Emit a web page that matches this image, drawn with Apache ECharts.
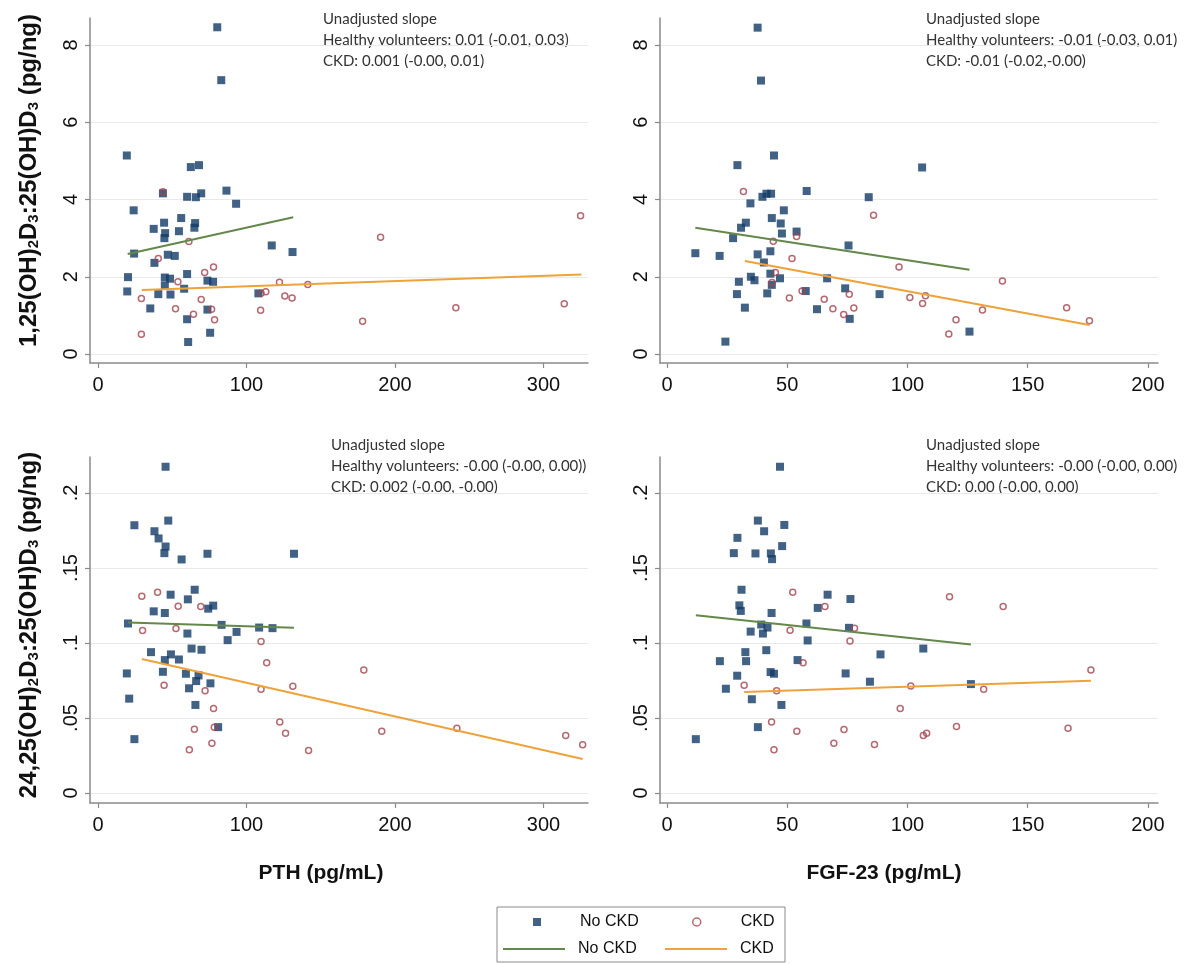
<!DOCTYPE html>
<html>
<head>
<meta charset="utf-8">
<title>Vitamin D metabolite ratios vs PTH and FGF-23</title>
<script src="https://cdn.jsdelivr.net/npm/echarts@6/dist/echarts.min.js"></script>
<style>
  html, body { margin: 0; padding: 0; background: #fff; }
  #chart { width: 1191px; height: 964px; }
</style>
</head>
<body>
<div id="chart"></div>
<script>
// ---- data ----
// 1,25(OH)2D3:25(OH)D3 vs PTH
const pth125NoCkd = [[80.3,8.46],[83,7.09],[19.4,5.14],[62.5,4.84],[68,4.89],[86.5,4.23],[43.7,4.16],[60,4.07],[65.9,4.06],[69.5,4.16],[93,3.89],[24,3.72],[56,3.52],[37.5,3.24],[44.5,3.4],[45.2,3.13],[44.7,3.0],[54.5,3.18],[65.4,3.39],[64.9,3.27],[24.3,2.6],[47,2.57],[51.7,2.54],[38,2.36],[117,2.81],[131,2.64],[20.2,1.99],[19.7,1.62],[45,1.98],[48.5,1.95],[45,1.77],[60,2.07],[58,1.69],[73.7,1.9],[77.5,1.87],[40.6,1.55],[48.8,1.54],[35.2,1.18],[73.7,1.15],[60,0.9],[75.5,0.55],[60.7,0.31],[108,1.57]];
const pth125Ckd = [[325,3.58],[190.3,3.02],[61.2,2.91],[40.6,2.47],[77.8,2.25],[71.8,2.11],[53.8,1.87],[122.2,1.86],[141.3,1.8],[29.2,1.44],[69.5,1.41],[113,1.61],[109.8,1.57],[125.8,1.5],[130.7,1.45],[52.2,1.17],[76.5,1.16],[109.5,1.13],[64.3,1.03],[78.5,0.89],[178.2,0.85],[241,1.2],[314,1.3],[29.2,0.51],[43.7,4.2]];
const pth125FitNoCkd = [[20,2.59],[131.5,3.54]];
const pth125FitCkd = [[29.5,1.66],[325.6,2.06]];

// 1,25(OH)2D3:25(OH)D3 vs FGF-23
const fgf125NoCkd = [[37.7,8.45],[39.1,7.08],[44.5,5.14],[29.3,4.89],[106.1,4.83],[58.1,4.22],[41.4,4.15],[43.3,4.15],[39.7,4.07],[83.9,4.06],[34.7,3.9],[48.6,3.72],[43.6,3.52],[47.3,3.38],[32.8,3.4],[30.8,3.27],[47.8,3.12],[53.9,3.17],[27.5,3.0],[11.8,2.61],[21.9,2.54],[37.7,2.58],[43,2.66],[75.5,2.81],[40.3,2.37],[29.9,1.87],[34.9,2.0],[36.4,1.91],[43,2.08],[47,1.96],[66.6,1.96],[43.6,1.79],[29.1,1.55],[41.7,1.57],[57.7,1.63],[74.1,1.7],[88.4,1.55],[32.4,1.2],[62.4,1.16],[76,0.91],[125.8,0.58],[24.3,0.32]];
const fgf125Ckd = [[31.8,4.21],[85.9,3.59],[53.9,3.04],[44.2,2.92],[52,2.47],[96.5,2.25],[45.1,2.11],[139.5,1.89],[43.7,1.85],[56.2,1.63],[75.8,1.55],[50.9,1.45],[65.4,1.42],[101,1.46],[107.5,1.51],[106.3,1.31],[69,1.17],[77.7,1.19],[73.5,1.02],[131.2,1.14],[166.2,1.2],[120.2,0.89],[175.7,0.86],[117.2,0.52]];
const fgf125FitNoCkd = [[11.8,3.27],[125.8,2.18]];
const fgf125FitCkd = [[32.4,2.41],[175.7,0.75]];

// 24,25(OH)2D3:25(OH)D3 vs PTH
const pth2425NoCkd = [[45.5,0.2175],[24.5,0.1785],[47.3,0.1816],[38,0.1745],[40.8,0.1697],[45.5,0.1643],[44.7,0.1599],[56.3,0.1557],[73.7,0.1595],[132,0.1595],[65.1,0.1355],[48.9,0.1322],[60.5,0.1291],[77.6,0.1249],[74.2,0.1229],[37.5,0.1211],[45,0.12],[20.2,0.113],[83.2,0.1121],[108.5,0.1103],[117.5,0.1099],[93.3,0.1074],[60.2,0.1063],[87.3,0.1019],[63,0.0963],[69.7,0.0955],[35.7,0.0939],[49.1,0.0924],[45,0.0886],[54.5,0.089],[19.4,0.0797],[43.7,0.0808],[59.2,0.0795],[67.7,0.0784],[66.1,0.0746],[75.7,0.0731],[61.3,0.0698],[21,0.0629],[65.6,0.0587],[80.9,0.0439],[24.5,0.0359]];
const pth2425Ckd = [[29.5,0.1311],[40.1,0.1338],[54,0.1245],[69.2,0.1243],[30,0.1083],[52.5,0.1096],[109.8,0.101],[113.6,0.0868],[179,0.082],[44.5,0.0718],[72.1,0.0682],[109.8,0.0691],[131.2,0.0711],[77.8,0.0563],[78.3,0.0439],[64.9,0.0425],[122.4,0.0474],[126.3,0.0399],[191.1,0.0412],[241.7,0.0432],[315,0.0383],[326.4,0.0321],[61.5,0.0288],[76.7,0.0332],[141.8,0.0283]];
const pth2425FitNoCkd = [[20.2,0.1136],[132,0.1101]];
const pth2425FitCkd = [[29.5,0.0893],[326.4,0.0226]];

// 24,25(OH)2D3:25(OH)D3 vs FGF-23
const fgf2425NoCkd = [[47,0.2175],[37.8,0.1816],[48.8,0.1787],[40.4,0.1745],[29.3,0.1701],[47.9,0.1646],[27.8,0.1599],[36.8,0.1597],[43.2,0.1597],[43.7,0.1559],[31,0.1355],[66.8,0.1322],[76.3,0.1293],[30.1,0.1251],[62.7,0.1234],[30.7,0.1214],[43.5,0.12],[58,0.113],[39.2,0.1123],[75.7,0.1101],[41.8,0.1103],[34.8,0.1076],[39.9,0.1063],[58.5,0.1017],[41.3,0.0952],[106.6,0.0963],[32.6,0.0939],[88.8,0.0924],[22,0.0879],[32.9,0.0879],[54.3,0.0886],[43.1,0.0806],[44.5,0.0795],[74.3,0.0797],[29.2,0.0782],[84.4,0.0742],[126.4,0.0726],[24.5,0.0695],[35.3,0.0625],[47.6,0.0587],[37.8,0.0439],[12,0.0359]];
const fgf2425Ckd = [[52.3,0.1338],[117.5,0.1309],[65.7,0.1243],[139.8,0.1243],[78,0.1099],[51.2,0.1085],[76.1,0.1014],[56.6,0.0868],[176.3,0.082],[32.1,0.0718],[101.4,0.0713],[45.6,0.0682],[131.7,0.0691],[97,0.0563],[43.5,0.0474],[120.4,0.0443],[166.8,0.0432],[54,0.0412],[73.6,0.0423],[106.6,0.0383],[108,0.0399],[69.4,0.0332],[86.3,0.0323],[44.5,0.0288]];
const fgf2425FitNoCkd = [[12,0.1185],[126.4,0.099]];
const fgf2425FitCkd = [[32.1,0.0673],[176.3,0.0749]];

// tick labels
const pthTicks = [0, 100, 200, 300];
const fgfTicks = [0, 50, 100, 150, 200];
const ratio125Ticks = [0, 2, 4, 6, 8];
const ratio2425Ticks = [0, 0.05, 0.1, 0.15, 0.2];

// slope notes
const note125Pth = ['Unadjusted slope', 'Healthy volunteers: 0.01 (-0.01, 0.03)', 'CKD: 0.001 (-0.00, 0.01)'];
const note125Fgf = ['Unadjusted slope', 'Healthy volunteers: -0.01 (-0.03, 0.01)', 'CKD: -0.01 (-0.02,-0.00)'];
const note2425Pth = ['Unadjusted slope', 'Healthy volunteers: -0.00 (-0.00, 0.00))', 'CKD: 0.002 (-0.00, -0.00)'];
const note2425Fgf = ['Unadjusted slope', 'Healthy volunteers: -0.00 (-0.00, 0.00)', 'CKD: 0.00 (-0.00, 0.00)'];

// ---- styling ----
const NAVY = '#123a66';
const MAROON = '#a2444c';
const GREEN = '#64874a';
const ORANGE = '#eea23a';
const AXIS = '#8a8a8a';
const FONT = '"Liberation Sans", Arial, sans-serif';

const panels = [
  { noCkd: pth125NoCkd, ckd: pth125Ckd, fitNo: pth125FitNoCkd, fitCkd: pth125FitCkd, note: note125Pth },
  { noCkd: fgf125NoCkd, ckd: fgf125Ckd, fitNo: fgf125FitNoCkd, fitCkd: fgf125FitCkd, note: note125Fgf },
  { noCkd: pth2425NoCkd, ckd: pth2425Ckd, fitNo: pth2425FitNoCkd, fitCkd: pth2425FitCkd, note: note2425Pth },
  { noCkd: fgf2425NoCkd, ckd: fgf2425Ckd, fitNo: fgf2425FitNoCkd, fitCkd: fgf2425FitCkd, note: note2425Fgf }
];

const grids = [
  { left: 90, top: 18, width: 498, height: 345 },
  { left: 660, top: 18, width: 498, height: 345 },
  { left: 90, top: 457, width: 498, height: 346 },
  { left: 660, top: 457, width: 498, height: 346 }
];
const notePos = [[323, 9], [926, 9], [331, 435], [926, 435]];

function xAxis(i, ticks, min, max, name, shift) {
  return {
    type: 'value', gridIndex: i, min: min, max: max,
    axisLine: { show: true, onZero: false, lineStyle: { color: AXIS, width: 1.5 } },
    axisTick: { show: true, length: 5, customValues: ticks, lineStyle: { color: AXIS, width: 1.2 } },
    axisLabel: { customValues: ticks, margin: 12, fontSize: 20, color: '#111', fontFamily: FONT },
    splitLine: { show: false },
    name: name, nameLocation: 'middle', nameGap: 60,
    nameTextStyle: { fontSize: 21, fontWeight: 'bold', color: '#111', fontFamily: FONT, padding: [0, shift, 0, 0] }
  };
}

const yName125 = '{n|1,25(OH)}{s|2}{n|D}{s|3}{n|:25(OH)D}{s|3}{n| (pg/ng)}';
const yName2425 = '{n|24,25(OH)}{s|2}{n|D}{s|3}{n|:25(OH)D}{s|3}{n| (pg/ng)}';

function yAxis(i, ticks, min, max, name, shift) {
  return {
    type: 'value', gridIndex: i, min: min, max: max,
    axisLine: { show: true, onZero: false, lineStyle: { color: AXIS, width: 1.5 } },
    axisTick: { show: true, length: 5, customValues: ticks, lineStyle: { color: AXIS, width: 1.2 } },
    axisLabel: {
      customValues: ticks, rotate: 90, margin: 9, fontSize: 20, color: '#111', fontFamily: FONT,
      formatter: v => (v === 0 ? '0' : String(v).replace(/^0\./, '.'))
    },
    splitLine: { show: true, lineStyle: { color: '#e8eaea', width: 1 } },
    name: name, nameLocation: 'middle', nameGap: 49,
    nameTextStyle: {
      fontFamily: FONT, padding: [0, 0, 0, shift],
      rich: {
        n: { fontSize: 24, fontWeight: 'bold', color: '#111', fontFamily: FONT },
        s: { fontSize: 15, fontWeight: 'bold', color: '#111', fontFamily: FONT, verticalAlign: 'bottom' }
      }
    }
  };
}

const series = [];
panels.forEach((p, i) => {
  series.push({
    name: 'No CKD', type: 'scatter', xAxisIndex: i, yAxisIndex: i, data: p.noCkd,
    symbol: 'rect', symbolSize: 8, itemStyle: { color: NAVY }
  });
  series.push({
    name: 'CKD', type: 'scatter', xAxisIndex: i, yAxisIndex: i, data: p.ckd,
    symbol: 'circle', symbolSize: 6,
    itemStyle: { color: 'rgba(255,255,255,0)', borderColor: MAROON, borderWidth: 1.5 }
  });
  series.push({
    name: 'No CKD fit', type: 'line', xAxisIndex: i, yAxisIndex: i, data: p.fitNo,
    symbol: 'none', lineStyle: { color: GREEN, width: 2 }, itemStyle: { color: GREEN }
  });
  series.push({
    name: 'CKD fit', type: 'line', xAxisIndex: i, yAxisIndex: i, data: p.fitCkd,
    symbol: 'none', lineStyle: { color: ORANGE, width: 2 }, itemStyle: { color: ORANGE }
  });
});

// one legend component per key cell so the two rows line up
const BAR = 'path://M0,0L62,0L62,2L0,2Z';
function legendCell(left, top, width, textPad, item) {
  return {
    left: left, top: top, padding: 0, orient: 'horizontal',
    itemWidth: width, itemHeight: 8, selectedMode: false,
    textStyle: { fontSize: 16, color: '#111', fontFamily: FONT, padding: [0, 0, 0, textPad] },
    formatter: n => n.replace(' fit', ''),
    data: [item]
  };
}

const chart = echarts.init(document.getElementById('chart'));
chart.setOption({
  backgroundColor: '#ffffff',
  animation: false,
  textStyle: { fontFamily: FONT },
  grid: grids.map(g => Object.assign({ outerBoundsMode: 'none', containLabel: false }, g)),
  xAxis: [
    xAxis(0, pthTicks, -5.4, 330, '', 0),
    xAxis(1, fgfTicks, -2.9, 204.2, '', 0),
    xAxis(2, pthTicks, -5.4, 330, 'PTH (pg/mL)', 36),
    xAxis(3, fgfTicks, -2.9, 204.2, 'FGF-23 (pg/mL)', 50)
  ],
  yAxis: [
    yAxis(0, ratio125Ticks, -0.233, 8.70, yName125, 20),
    yAxis(1, ratio125Ticks, -0.233, 8.70, '', 0),
    yAxis(2, ratio2425Ticks, -0.00667, 0.224, yName2425, 10),
    yAxis(3, ratio2425Ticks, -0.00667, 0.224, '', 0)
  ],
  legend: [
    legendCell(533, 914, 8, 34, { name: 'No CKD', icon: 'rect', itemStyle: { color: NAVY } }),
    legendCell(692, 914, 8, 35, { name: 'CKD', icon: 'circle', itemStyle: { color: 'rgba(255,255,255,0)', borderColor: MAROON, borderWidth: 1.5 } }),
    legendCell(503, 941, 62, 8, { name: 'No CKD fit', icon: BAR, itemStyle: { color: GREEN, borderWidth: 0 } }),
    legendCell(665, 941, 62, 8, { name: 'CKD fit', icon: BAR, itemStyle: { color: ORANGE, borderWidth: 0 } })
  ],
  graphic: [{
    type: 'rect', shape: { x: 497, y: 907, width: 288, height: 55 },
    style: { fill: 'none', stroke: AXIS, lineWidth: 1 }, silent: true
  }].concat(panels.map((p, i) => ({
    type: 'text', left: notePos[i][0], top: notePos[i][1],
    style: { text: p.note.join('\n'), font: '15px Lato', fill: '#333', lineHeight: 21 }
  }))),
  series: series
});
</script>
</body>
</html>
